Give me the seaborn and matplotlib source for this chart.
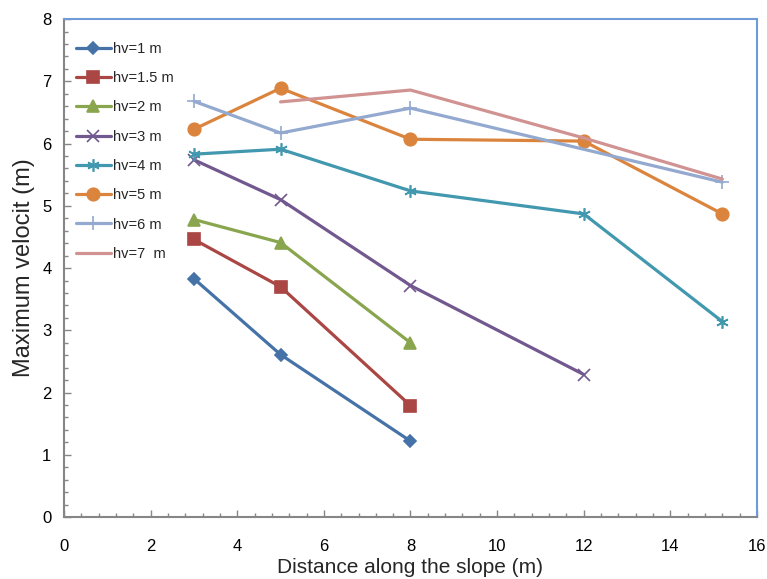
import matplotlib
matplotlib.use("Agg")
import matplotlib.pyplot as plt
from matplotlib.ticker import MultipleLocator
import seaborn as sns
import pandas as pd

sns.set_theme(style="white")
plt.rcParams['font.family'] = ['Liberation Sans', 'DejaVu Sans']

labels = ["hv=1 m", "hv=1.5 m", "hv=2 m", "hv=3 m", "hv=4 m", "hv=5 m", "hv=6 m", "hv=7  m"]
x_hv1 = [3, 5, 8];            y_hv1 = [3.83, 2.61, 1.22]
x_hv15 = [3, 5, 8];           y_hv15 = [4.46, 3.70, 1.79]
x_hv2 = [3, 5, 8];            y_hv2 = [4.78, 4.41, 2.80]
x_hv3 = [3, 5, 8, 12];        y_hv3 = [5.74, 5.10, 3.72, 2.29]
x_hv4 = [3, 5, 8, 12, 15.2];  y_hv4 = [5.83, 5.91, 5.24, 4.87, 3.14]
x_hv5 = [3, 5, 8, 12, 15.2];  y_hv5 = [6.23, 6.89, 6.07, 6.04, 4.87]
x_hv6 = [3, 5, 8, 15.2];      y_hv6 = [6.68, 6.17, 6.57, 5.38]
x_hv7 = [5, 8, 12, 15.2];     y_hv7 = [6.67, 6.86, 6.09, 5.43]

xs = [x_hv1, x_hv15, x_hv2, x_hv3, x_hv4, x_hv5, x_hv6, x_hv7]
ys = [y_hv1, y_hv15, y_hv2, y_hv3, y_hv4, y_hv5, y_hv6, y_hv7]
colors = ["#4572A7", "#AA4643", "#89A54E", "#71588F", "#4198AF", "#DB843D", "#93A9CF", "#D19392"]
markers = ["D", "s", "^", "x", (6, 2, 0), "o", "+", None]
msizes = [6, 8, 8.5, 8, 9, 9, 10, 0]

fig = plt.figure(figsize=(7.67, 5.79), dpi=100)
ax = fig.add_axes([0.0834, 0.107, 0.9036, 0.860])

for xv, yv, lab, c, m, ms in zip(xs, ys, labels, colors, markers, msizes):
    df = pd.DataFrame({"x": xv, "y": yv})
    kw = dict(marker=m, markersize=ms, markeredgecolor=c, markerfacecolor=c, markeredgewidth=1.2) if m is not None else {}
    sns.lineplot(data=df, x="x", y="y", ax=ax, color=c, linewidth=2.3, label=lab,
                 sort=False, estimator=None, **kw)

ax.set_xlim(0, 16)
ax.set_ylim(0, 8)
ax.xaxis.set_major_locator(MultipleLocator(2))
ax.xaxis.set_minor_locator(MultipleLocator(0.4))
ax.yaxis.set_major_locator(MultipleLocator(1))
ax.yaxis.set_minor_locator(MultipleLocator(0.2))
ax.tick_params(axis='both', which='major', direction='in', length=5, width=1, color='#868686',
               labelsize=12, labelcolor='black', bottom=True, left=True)
ax.tick_params(axis='y', which='major', pad=9)
ax.tick_params(axis='x', which='major', pad=16)
ax.tick_params(axis='both', which='minor', direction='in', length=3, width=1, color='#868686',
               bottom=True, left=True)
for s in ['left', 'bottom']:
    ax.spines[s].set_color('#868686')
    ax.spines[s].set_linewidth(1.5)
for s in ['top', 'right']:
    ax.spines[s].set_color('#6F9BD8')
    ax.spines[s].set_linewidth(1.5)

ax.set_xlabel("Distance along the slope (m)", fontsize=15, labelpad=3)
ax.set_ylabel("Maximum velocit (m)", fontsize=17, labelpad=5)

leg = ax.legend(loc='upper left', bbox_to_anchor=(0.0, 0.978), frameon=False, fontsize=10.5,
                handlelength=2.4, handletextpad=0.15, labelspacing=1.05, borderaxespad=0.4)

fig.savefig("out.png", dpi=100)
